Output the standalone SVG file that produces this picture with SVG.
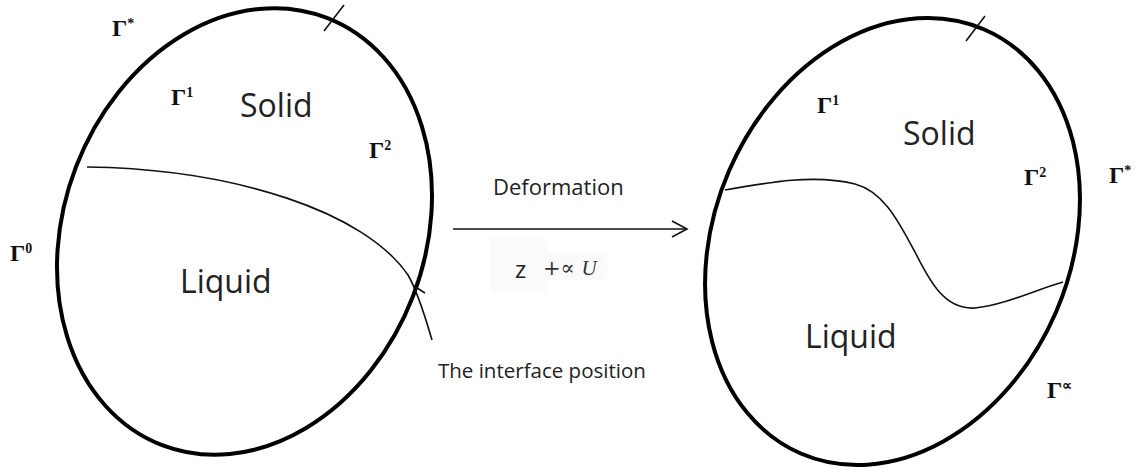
<svg xmlns="http://www.w3.org/2000/svg" width="1145" height="473" viewBox="0 0 1145 473">
<style>
.bound{fill:none;stroke:#000;stroke-width:4}
.thin{fill:none;stroke:#111;stroke-width:1.6}
.lbl{font-family:"Open Sans","Liberation Sans",sans-serif;fill:#222}
.big{font-size:32px}
.gam{font-family:"Liberation Serif",serif;font-weight:bold;font-size:24px;fill:#111}
.sup{font-size:14px}
</style>
<rect width="1145" height="473" fill="#fff"/>
<g id="left-domain">
<ellipse class="bound" cx="244.5" cy="231.5" rx="180.5" ry="229" transform="rotate(21.1 244.5 231.5)"/>
<line class="thin" x1="324" y1="31" x2="344" y2="5"/>
<path class="thin" d="M87,167 C235,169 365,212 408,275 Q418,292 432,340"/>
<line class="thin" x1="414" y1="286" x2="425" y2="293"/>
<text class="lbl big" x="240" y="117">Solid</text>
<text class="lbl big" x="180" y="293">Liquid</text>
<text class="gam" x="112" y="36">Γ<tspan class="sup" dy="-8">*</tspan></text>
<text class="gam" x="171" y="105">Γ<tspan class="sup" dy="-8">1</tspan></text>
<text class="gam" x="369" y="158">Γ<tspan class="sup" dy="-8">2</tspan></text>
<text class="gam" x="10" y="261">Γ<tspan class="sup" dy="-8">0</tspan></text>
</g>
<g id="connectors">
<line class="thin" x1="453" y1="229" x2="687" y2="229" stroke-width="2"/>
<polyline class="thin" points="672,221 687,229 672,237" stroke-width="2"/>
</g>
<g id="deformation-label">
<text class="lbl" x="493" y="195" font-size="22">Deformation</text>
<rect x="490" y="237" width="57" height="56" fill="#fbfbfb"/>
<rect x="545" y="252" width="62" height="28" fill="#fafafa"/>
<text class="lbl" x="515" y="278" font-size="24" fill="#111">z</text>
<text x="543" y="275" font-family="'DejaVu Serif','Liberation Serif',serif" font-size="21" fill="#333">+∝ <tspan font-style="italic" font-family="'Liberation Serif',serif" font-size="21">U</tspan></text>
</g>
<g id="interface-label">
<text class="lbl" x="438" y="378" font-size="20.5">The interface position</text>
</g>
<g id="right-domain">
<ellipse class="bound" cx="892.5" cy="241.5" rx="178.1" ry="231" transform="rotate(23.4 892.5 241.5)"/>
<line class="thin" x1="966" y1="41" x2="985" y2="16"/>
<path class="thin" d="M725,190 C770,182 815,174 855,184 C885,192 900,225 915,252 C930,282 945,310 975,308 C1005,305 1035,290 1063,282"/>
<text class="lbl big" x="903" y="145">Solid</text>
<text class="lbl big" x="805" y="348">Liquid</text>
<text class="gam" x="817" y="113">Γ<tspan class="sup" dy="-8">1</tspan></text>
<text class="gam" x="1024" y="185">Γ<tspan class="sup" dy="-8">2</tspan></text>
<text class="gam" x="1109" y="183">Γ<tspan class="sup" dy="-8">*</tspan></text>
<text class="gam" x="1047" y="398">Γ<tspan class="sup" dy="-8">∝</tspan></text>
</g>
</svg>
